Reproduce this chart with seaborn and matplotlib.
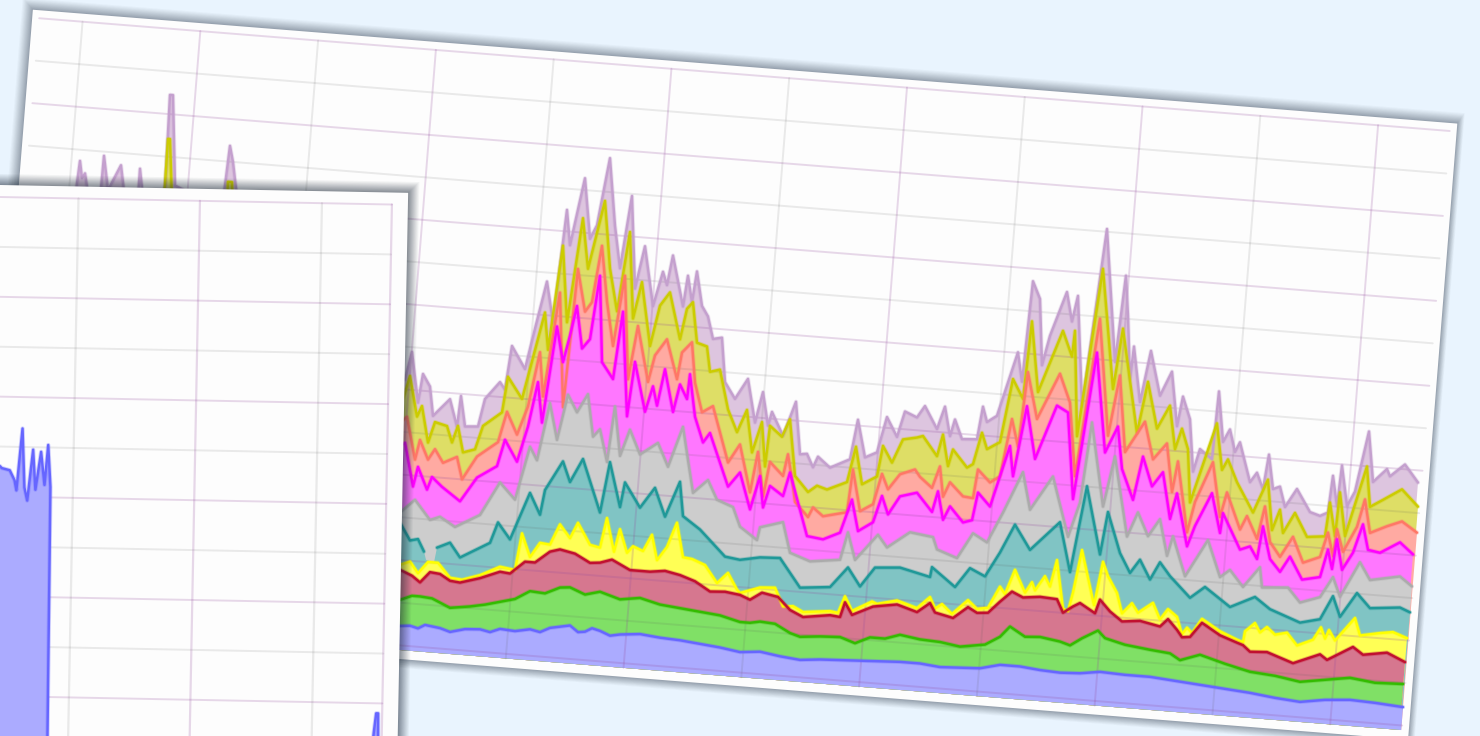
import numpy as np
import pandas as pd
import matplotlib
matplotlib.use("Agg")
import matplotlib.pyplot as plt
import matplotlib.patheffects as pe
from matplotlib.patches import Polygon
from matplotlib.transforms import Affine2D
import seaborn as sns

# readings: (position along the chart, height above the chart floor)
blue_top = [(380,24),(400,24),(410,25),(418,23),(425,27),(440,25),(450,22),(465,26),(480,27),(490,25),(500,29),(515,28),(530,31),(540,29),(550,34),(570,38),(578,32),(585,33),(592,37),(600,35),(610,31),(620,33),(640,35),(660,33),(680,32),(700,30),(720,28),(740,25),(760,27),(780,24),(800,22),(820,24),(840,25),(860,26),(880,27),(900,28),(920,28),(940,26),(960,27),(980,28),(1000,33),(1020,33),(1040,31),(1060,30),(1080,31),(1100,34),(1125,33),(1150,33),(1175,31),(1200,29),(1225,27),(1250,25),(1275,22),(1300,20),(1325,24),(1350,26),(1375,25),(1403,23)]
green_top = [(380,50),(400,50),(412,55),(420,55),(432,54),(450,46),(470,49),(485,52),(500,56),(515,60),(530,69),(545,68),(560,75),(570,76),(585,70),(600,74),(620,68),(640,71),(660,66),(680,64),(700,62),(720,60),(740,55),(750,55),(760,57),(775,56),(790,48),(800,45),(820,47),(840,48),(855,43),(870,50),(885,50),(900,55),(920,52),(940,51),(960,48),(985,52),(1000,61),(1010,72),(1025,63),(1040,64),(1060,61),(1070,58),(1082,66),(1098,75),(1105,68),(1125,63),(1150,60),(1170,58),(1180,52),(1200,59),(1225,52),(1250,46),(1275,44),(1300,40),(1325,44),(1350,48),(1375,45),(1403,46)]
red_top = [(380,80),(400,80),(412,75),(420,69),(430,80),(440,79),(450,73),(460,72),(480,78),(500,86),(510,85),(525,98),(535,98),(550,110),(560,113),(575,110),(590,102),(600,103),(612,107),(630,98),(650,98),(665,100),(680,97),(695,92),(710,83),(725,84),(740,82),(750,78),(762,86),(778,83),(790,71),(803,65),(830,69),(840,68),(845,83),(852,71),(873,81),(897,85),(917,79),(930,89),(935,80),(953,76),(968,88),(977,83),(988,84),(1000,96),(1012,107),(1023,102),(1040,104),(1057,103),(1063,90),(1073,97),(1080,101),(1095,92),(1100,106),(1110,95),(1122,86),(1140,88),(1160,84),(1168,92),(1177,82),(1182,75),(1190,76),(1202,91),(1220,80),(1237,74),(1243,72),(1250,66),(1267,67),(1293,58),(1320,69),(1327,64),(1353,79),(1363,72),(1387,76),(1405,68)]
yellow_top = [(380,85),(400,85),(410,89),(418,78),(428,90),(438,90),(450,76),(462,75),(480,81),(500,91),(515,89),(522,126),(530,103),(540,118),(550,117),(560,138),(570,125),(578,141),(590,120),(600,118),(607,148),(614,115),(620,138),(627,115),(633,122),(643,118),(652,135),(657,110),(667,124),(677,149),(683,115),(692,114),(705,109),(717,92),(728,103),(737,87),(740,84),(760,91),(775,92),(783,74),(793,75),(803,70),(830,73),(838,72),(845,89),(852,75),(872,86),(877,84),(897,89),(917,83),(930,95),(935,84),(942,89),(952,80),(968,95),(977,87),(988,89),(1000,111),(1005,104),(1015,129),(1025,107),(1032,118),(1035,110),(1045,125),(1050,115),(1057,142),(1063,94),(1068,92),(1073,111),(1082,154),(1094,100),(1103,144),(1108,130),(1117,114),(1122,94),(1132,105),(1138,96),(1153,107),(1160,91),(1168,102),(1177,95),(1182,78),(1187,85),(1192,80),(1202,95),(1220,84),(1237,77),(1243,75),(1245,86),(1255,95),(1260,86),(1267,92),(1275,85),(1287,88),(1297,76),(1313,83),(1321,96),(1325,85),(1329,94),(1335,84),(1355,108),(1360,91),(1380,95),(1393,97),(1407,92)]
teal_left = [(380,120),(400,127),(410,110),(418,112),(424,100)]
teal_gap = [(426,92),(434,90)]
teal_right = [(437,105),(450,111),(460,97),(490,114),(498,135),(510,119),(530,167),(540,146),(545,171),(563,201),(570,181),(583,205),(600,153),(610,204),(620,160),(625,185),(640,161),(655,182),(665,154),(680,190),(683,156),(700,144),(725,119),(740,117),(760,121),(780,122),(800,94),(830,97),(848,118),(860,100),(875,120),(900,122),(930,115),(932,125),(955,107),(970,127),(985,120),(1000,145),(1015,174),(1030,150),(1060,180),(1070,131),(1087,218),(1100,151),(1108,194),(1120,154),(1130,135),(1140,149),(1150,130),(1160,148),(1170,135),(1180,125),(1190,115),(1205,127),(1230,109),(1255,121),(1270,110),(1300,99),(1320,104),(1333,128),(1340,108),(1357,133),(1370,119),(1400,122),(1410,118)]
gray_top = [(380,140),(400,137),(415,151),(430,132),(440,136),(455,127),(480,141),(500,175),(515,159),(530,213),(537,200),(550,258),(557,222),(568,268),(577,251),(588,270),(593,228),(600,236),(607,204),(615,260),(620,211),(630,238),(640,214),(658,227),(668,204),(683,245),(693,180),(708,194),(717,175),(733,169),(740,150),(757,138),(760,151),(783,158),(790,128),(810,121),(840,125),(848,153),(855,126),(878,153),(887,141),(910,158),(933,155),(937,143),(957,136),(973,162),(987,154),(1003,185),(1023,227),(1030,190),(1053,225),(1068,166),(1080,201),(1092,282),(1103,199),(1115,250),(1127,171),(1138,196),(1148,173),(1160,191),(1167,155),(1173,175),(1185,136),(1208,174),(1220,138),(1230,146),(1243,130),(1260,151),(1262,131),(1288,133),(1300,119),(1320,126),(1333,147),(1340,128),(1360,164),(1370,147),(1400,153),(1412,144)]
magenta_top = [(385,190),(405,207),(413,164),(418,184),(427,162),(432,175),(442,166),(460,153),(477,178),(497,191),(505,218),(517,197),(528,233),(538,278),(542,238),(557,335),(563,300),(570,327),(577,357),(582,315),(590,325),(600,389),(602,303),(613,287),(623,355),(627,251),(635,306),(645,257),(653,283),(657,264),(665,301),(673,259),(680,287),(687,273),(690,298),(695,256),(703,231),(710,241),(728,189),(740,204),(750,168),(760,202),(763,171),(770,193),(783,184),(790,208),(807,146),(823,144),(840,152),(852,186),(858,155),(873,165),(882,192),(888,174),(900,193),(917,198),(932,180),(938,201),(943,173),(950,187),(963,172),(972,175),(978,203),(990,190),(1010,252),(1013,222),(1027,293),(1035,241),(1057,296),(1068,290),(1073,204),(1097,352),(1105,253),(1118,280),(1122,238),(1133,208),(1143,252),(1152,223),(1163,238),(1170,192),(1177,218),(1187,166),(1195,187),(1212,221),(1220,182),(1223,202),(1240,167),(1250,171),(1257,159),(1263,192),(1270,160),(1280,148),(1290,164),(1302,142),(1320,146),(1328,174),(1332,155),(1337,185),(1342,155),(1353,173),(1363,202),(1368,177),(1380,175),(1400,187),(1413,176)]
salmon_top = [(387,215),(407,233),(415,191),(420,211),(428,192),(435,203),(443,190),(457,197),(462,175),(477,199),(498,215),(507,246),(517,224),(528,253),(540,308),(543,264),(560,369),(563,255),(578,394),(585,352),(592,362),(602,419),(607,364),(613,320),(625,391),(628,288),(638,342),(648,287),(655,314),(667,331),(677,292),(682,319),(692,330),(695,290),(702,261),(713,268),(728,213),(740,232),(750,185),(758,226),(763,182),(770,217),(783,204),(788,226),(792,201),(795,179),(808,165),(813,175),(823,167),(847,173),(853,216),(860,175),(873,183),(882,214),(888,199),(900,215),(915,221),(920,214),(932,204),(940,226),(943,196),(950,211),(963,198),(973,197),(978,226),(990,214),(1000,221),(1012,279),(1018,252),(1028,327),(1037,281),(1060,328),(1070,300),(1075,227),(1100,386),(1108,270),(1120,331),(1125,255),(1145,287),(1153,250),(1167,267),(1172,219),(1178,250),(1187,180),(1195,211),(1213,252),(1220,198),(1227,223),(1240,187),(1247,201),(1257,179),(1265,212),(1270,177),(1280,163),(1293,184),(1303,159),(1320,166),(1328,191),(1333,168),(1337,195),(1343,173),(1357,199),(1365,227),(1370,194),(1387,202),(1402,208),(1417,198)]
olive_top = [(100,300),(160,400),(165,445),(168,491),(170,491),(173,400),(225,400),(228,453),(232,453),(234,400),(380,250),(400,240),(410,274),(417,234),(422,245),(428,209),(435,230),(447,227),(452,211),(458,228),(463,202),(475,206),(483,230),(502,245),(508,281),(522,260),(545,348),(548,311),(563,416),(567,340),(583,445),(588,395),(605,464),(610,397),(617,355),(630,435),(633,349),(642,386),(650,323),(660,364),(670,378),(680,332),(687,363),(693,370),(697,330),(707,327),(710,302),(720,305),(728,266),(737,244),(747,267),(752,225),(762,256),(765,212),(770,253),(782,243),(790,261),(795,205),(808,190),(817,197),(827,194),(847,203),(856,239),(862,202),(877,211),(883,242),(892,226),(903,250),(917,253),(923,255),(937,236),(943,258),(948,227),(953,244),(967,227),(973,231),(982,263),(987,247),(1000,255),(1013,319),(1023,300),(1032,378),(1038,308),(1063,371),(1072,346),(1075,372),(1077,267),(1103,436),(1113,317),(1123,378),(1137,275),(1148,327),(1157,281),(1170,305),(1175,262),(1182,283),(1188,263),(1190,210),(1198,234),(1217,291),(1222,245),(1228,256),(1237,234),(1253,205),(1268,239),(1272,189),(1280,210),(1283,187),(1295,208),(1307,185),(1325,187),(1330,221),(1335,188),(1340,232),(1345,189),(1367,260),(1370,220),(1383,228),(1402,240),(1418,224)]
mauve_top = [(50,300),(76,432),(80,462),(82,445),(85,450),(88,430),(100,425),(104,469),(108,435),(113,445),(121,461),(124,435),(138,430),(140,459),(143,430),(160,430),(165,440),(170,535),(173,535),(175,445),(222,425),(230,489),(233,473),(236,447),(240,420),(300,400),(380,300),(395,270),(405,270),(412,298),(418,248),(423,277),(430,265),(433,236),(450,254),(457,227),(461,258),(465,228),(478,229),(485,257),(500,275),(505,268),(512,312),(525,290),(535,331),(547,379),(553,339),(567,452),(570,417),(585,485),(590,425),(597,439),(610,507),(615,440),(620,398),(632,471),(635,379),(645,422),(653,363),(663,398),(667,385),(673,415),(683,365),(688,396),(692,370),(697,401),(702,367),(708,357),(713,335),(722,337),(725,293),(735,277),(748,298),(755,255),(763,286),(768,253),(772,267),(783,244),(796,279),(800,227),(807,228),(813,215),(818,226),(830,216),(850,226),(858,266),(865,229),(877,235),(887,271),(897,252),(905,278),(917,273),(925,285),(937,263),(945,286),(950,257),(955,274),(962,255),(977,256),(983,289),(987,274),(997,281),(1007,312),(1018,346),(1022,317),(1033,418),(1040,401),(1042,335),(1050,365),(1067,410),(1072,381),(1078,407),(1082,297),(1090,355),(1107,476),(1115,344),(1126,431),(1128,391),(1130,328),(1134,361),(1140,306),(1151,358),(1160,314),(1172,339),(1177,285),(1183,315),(1190,293),(1193,241),(1200,264),(1212,255),(1219,323),(1223,273),(1230,286),(1235,264),(1240,274),(1250,235),(1257,245),(1263,229),(1269,264),(1273,230),(1280,233),(1285,213),(1297,232),(1310,210),(1320,207),(1328,211),(1333,248),(1337,218),(1342,259),(1347,219),(1355,234),(1369,295),(1373,245),(1387,259),(1390,252),(1405,265),(1418,248)]
front_blue = [(-60,0),(-60,300),(-30,296),(5,294),(7,292),(15,290),(20,280),(22,270),(27,332),(30,273),(33,260),(38,311),(41,271),(46,309),(50,276),(53,316),(56,274),(58,0)]
front_spike = [(381,0),(384,35),(386,54),(388,54),(389,0)]

fills = dict(mauve="#DDC5DF", olive="#DEDE66", salmon="#FFAAA2", magenta="#FF77FF", gray="#CDCDCD",
             teal="#80C4C4", yellow="#FFFF55", red="#D6778F", green="#80E066", blue="#ABABFF")
edges = dict(mauve="#C4A0CE", olive="#CCCC00", salmon="#FF7766", magenta="#FF00FF", gray="#ABABAB",
             teal="#1F9898", yellow="#FFFF00", red="#C01030", green="#33BB00", blue="#6666FF")

ANGLE = 4.57
S, C = np.sin(np.radians(ANGLE)), np.cos(np.radians(ANGLE))
FRONT_ANGLE = 1.1
MAJOR = (0.58, 0.30, 0.62, 0.21)
MINOR = (0.35, 0.35, 0.35, 0.12)

sns.set_theme(style="white")
fig = plt.figure(figsize=(14.8, 7.36), dpi=100, facecolor="#E9F4FE")
ax = fig.add_axes([0, 0, 1, 1], facecolor="#E9F4FE")
ax.set_xlim(0, 1480)
ax.set_ylim(0, 736)
ax.axis("off")

tr_main = Affine2D().translate(0, 86).rotate_deg_around(400, 86, -ANGLE) + ax.transData
tr_front = Affine2D().translate(0, -24).rotate_deg_around(0, 539, -FRONT_ANGLE) + ax.transData


def card(x0, y0, x1, y1, tr, z, spread, dark, rgt, bot):
    for d in np.linspace(spread, 1, 10):
        ax.add_patch(Polygon([(x0 - d, y0 - d * bot), (x1 + d * rgt, y0 - d * bot), (x1 + d * rgt, y1 + d),
                              (x0 - d, y1 + d)], closed=True, transform=tr,
                             fc=(0.12, 0.17, 0.22), ec="none", alpha=dark * (1 - 0.5 * d / spread) * 1.3, zorder=z))
    ax.add_patch(Polygon([(x0, y0), (x1, y0), (x1, y1), (x0, y1)], closed=True, transform=tr,
                         fc="#FDFDFD", ec="none", zorder=z + 0.1))


def trace(xs, ys, color, tr, z, lw=1.75):
    df = pd.DataFrame({"x": xs, "y": ys})
    n = len(ax.lines)
    sns.lineplot(data=df, x="x", y="y", ax=ax, sort=False, estimator=None, color=color, lw=lw,
                 legend=False, solid_joinstyle="round")
    ln = ax.lines[n]
    ln.set_transform(tr)
    ln.set_zorder(z)
    ln.set_path_effects([pe.Stroke(linewidth=lw + 1.3, foreground=color, alpha=0.3), pe.Normal()])
    ax.set_xlabel("")
    ax.set_ylabel("")


def along(pts):
    a = np.array(pts, dtype=float)
    return 400 + (a[:, 0] - 400 - S * a[:, 1]) / C, a[:, 1]


# main card
card(-17, -9, 1412, 609, tr_main, 1, 11, 0.05, 0.6, 0.8)
series = [("mauve", mauve_top), ("olive", olive_top), ("salmon", salmon_top), ("magenta", magenta_top),
          ("gray", gray_top), ("teal", teal_left + teal_gap + teal_right), ("yellow", yellow_top),
          ("red", red_top), ("green", green_top), ("blue", blue_top)]
z = 2
for name, pts in series:
    t, h = along(pts)
    ax.fill(np.r_[t, t[-1], t[0]], np.r_[h, 0, 0], color=fills[name], ec="none", transform=tr_main, zorder=z)
    z += 0.01

# grid of the main card, seen through the areas
for k in range(15):
    lvl = 601 - 42.6 * k
    col = MAJOR if k % 2 == 0 else MINOR
    ax.plot([-10, 1405], [lvl, lvl], color=col, lw=1.4, transform=tr_main, zorder=2.5)
for k in range(12):
    pos = 33.5 + 118.15 * k
    col = MAJOR if k % 2 == 1 else MINOR
    ax.plot([pos, pos], [0, 601], color=col, lw=1.4, transform=tr_main, zorder=2.5)

z = 3
for name, pts in series:
    if name == "teal":
        continue
    t, h = along(pts)
    trace(t, h, edges[name], tr_main, z)
    z += 0.01
for part in (teal_left, teal_right):
    t, h = along(part)
    trace(t, h, edges["teal"], tr_main, 3.04)

# front card
card(-60, -40, 408, 575, tr_front, 6, 11, 0.07, 1.0, 1.0)
for k in range(13):
    lvl = 563 - 49.9 * k
    col = MAJOR if k % 2 == 0 else MINOR
    ax.plot([-60, 392], [lvl, lvl], color=col, lw=1.4, transform=tr_front, zorder=6.5)
for pos, col in [(78.5, MINOR), (200, MAJOR), (322, MINOR), (392, MAJOR)]:
    ax.plot([pos, pos], [-40, 563], color=col, lw=1.6, transform=tr_front, zorder=6.5)
for pts in (front_blue, front_spike):
    a = np.array(pts, dtype=float)
    ax.fill(a[:, 0], a[:, 1], color=fills["blue"], ec="none", transform=tr_front, zorder=6.6)
    trace(a[:, 0], a[:, 1], edges["blue"], tr_front, 6.7)

ax.set_xlim(0, 1480)
ax.set_ylim(0, 736)
fig.savefig("out.png", dpi=100, facecolor=fig.get_facecolor())
